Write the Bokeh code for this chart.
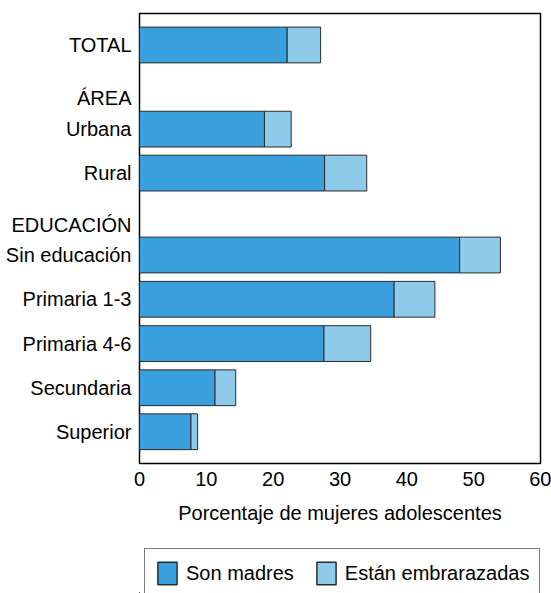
from bokeh.plotting import figure
from bokeh.layouts import column
from bokeh.models import Range1d, FixedTicker, Legend, LegendItem, ColumnDataSource
from bokeh.embed import file_html
from bokeh.resources import INLINE

# ---- data ----
categories = ["TOTAL", "Urbana", "Rural", "Sin educación", "Primaria 1-3",
              "Primaria 4-6", "Secundaria", "Superior"]
son_madres = [22.1, 18.7, 27.7, 47.9, 38.1, 27.6, 11.3, 7.7]
embarazadas = [5.0, 4.0, 6.3, 6.1, 6.1, 7.0, 3.1, 1.0]
group_headers = ["ÁREA", "EDUCACIÓN"]
x_ticks = [0, 10, 20, 30, 40, 50, 60]
series_labels = ["Son madres", "Están embrarazadas"]

# ---- layout (row slots, top to bottom) ----
positions = [0.0, 1.905, 2.90, 4.755, 5.757, 6.76, 7.76, 8.756]
header_positions = [1.21, 4.08]

C_DARK = "#3a9fdd"
C_LIGHT = "#8ecbea"
EDGE = "#2b2b2b"
FONT = "Liberation Sans"

totals = [m + e for m, e in zip(son_madres, embarazadas)]
src = ColumnDataSource(dict(pos=positions, madres=son_madres, total=totals,
                            cat=categories))

p = figure(width=551, height=548, output_backend="svg", toolbar_location=None,
           x_range=Range1d(0, 60), y_range=Range1d(9.475, -0.713),
           min_border_left=139, min_border_right=11, min_border_top=13,
           min_border_bottom=85)
p.background_fill_color = "white"
p.border_fill_color = "white"
p.outline_line_color = "black"
p.outline_line_width = 1.5
p.xgrid.visible = False
p.ygrid.visible = False

p.hbar(y="pos", left=0, right="madres", height=0.81, source=src,
       fill_color=C_DARK, line_color=EDGE, line_width=1)
p.hbar(y="pos", left="madres", right="total", height=0.81, source=src,
       fill_color=C_LIGHT, line_color=EDGE, line_width=1)

# x axis
xa = p.xaxis[0]
xa.ticker = FixedTicker(ticks=x_ticks)
xa.axis_line_color = None
xa.major_tick_line_color = None
xa.minor_tick_line_color = None
xa.major_tick_out = 0
xa.major_tick_in = 0
xa.major_label_standoff = 8
xa.major_label_text_font = FONT
xa.major_label_text_font_size = "20px"
xa.major_label_text_color = "black"
xa.axis_label = "Porcentaje de mujeres adolescentes"
xa.axis_label_text_font = FONT
xa.axis_label_text_font_size = "20px"
xa.axis_label_text_font_style = "normal"
xa.axis_label_text_color = "black"
xa.axis_label_standoff = 13

# y axis with category + header labels
ya = p.yaxis[0]
ya.ticker = FixedTicker(ticks=positions + header_positions)
overrides = {pos: lab for pos, lab in zip(positions, categories)}
overrides.update({pos: lab for pos, lab in zip(header_positions, group_headers)})
ya.major_label_overrides = overrides
ya.axis_line_color = None
ya.major_tick_line_color = None
ya.minor_tick_line_color = None
ya.major_tick_out = 0
ya.major_tick_in = 0
ya.major_label_standoff = 8
ya.major_label_text_font = FONT
ya.major_label_text_font_size = "20px"
ya.major_label_text_color = "black"

# ---- legend strip below the chart (series glyphs kept out of view) ----
lg = figure(width=551, height=45, output_backend="svg", toolbar_location=None,
            x_range=Range1d(1000, 1001), y_range=Range1d(1000, 1001),
            x_axis_location=None, y_axis_location=None, min_border=0)
lg.outline_line_color = None
lg.background_fill_color = "white"
lg.border_fill_color = "white"
lg.xgrid.visible = False
lg.ygrid.visible = False
k1 = lg.hbar(y="pos", left=0, right="madres", height=0.81, source=src,
             fill_color=C_DARK, line_color=EDGE, line_width=1.5)
k2 = lg.hbar(y="pos", left="madres", right="total", height=0.81, source=src,
             fill_color=C_LIGHT, line_color=EDGE, line_width=1.5)

legend = Legend(items=[LegendItem(label=series_labels[0], renderers=[k1], index=0),
                       LegendItem(label=series_labels[1], renderers=[k2], index=0)],
                orientation="horizontal", location=(5, -5))
legend.label_text_font = FONT
legend.label_text_font_size = "20px"
legend.label_text_color = "black"
legend.glyph_width = 24
legend.glyph_height = 28
legend.label_standoff = 7
legend.spacing = 20
legend.padding = 10
legend.margin = 0
legend.border_line_color = "black"
legend.border_line_width = 1.5
legend.background_fill_alpha = 1
lg.add_layout(legend, "center")

open("out.html", "w").write(file_html(column(p, lg, spacing=0), INLINE))
